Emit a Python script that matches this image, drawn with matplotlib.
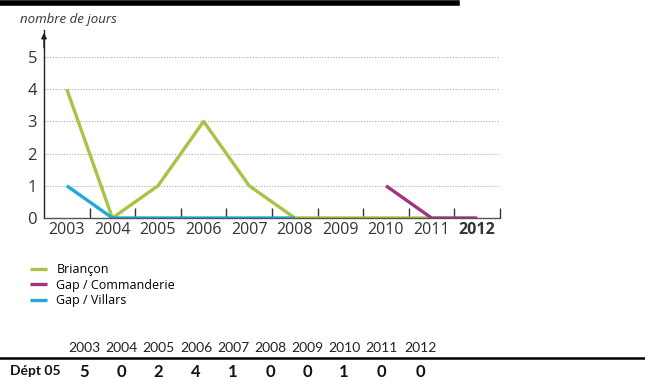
import numpy as np
import matplotlib.pyplot as plt
from matplotlib.lines import Line2D

years = [2003, 2004, 2005, 2006, 2007, 2008, 2009, 2010, 2011, 2012]
briancon = [4, 0, 1, 3, 1, 0, 0, 0, 0, np.nan]
gap_commanderie = [np.nan] * 7 + [1, 0, 0]
gap_villars = [1, 0, 0, 0, 0, 0, np.nan, np.nan, np.nan, np.nan]
dept05 = [5, 0, 2, 4, 1, 0, 0, 1, 0, 0]

c_green = "#a6c445"
c_purple = "#a3327f"
c_blue = "#1ea9d9"

plt.rcParams["font.family"] = ["Open Sans", "DejaVu Sans"]

fig = plt.figure(figsize=(6.45, 3.8), dpi=100)
W, H = 645, 380

# barre noire en haut
fig.add_artist(Line2D([0, 457 / W], [1 - 2.5 / H, 1 - 2.5 / H], color="black", lw=4,
                      transform=fig.transFigure))

ax = fig.add_axes([44 / W, 1 - 218 / H, 456 / W, 188 / H])
ax.plot(years, briancon, color=c_green, lw=2.4, solid_capstyle="butt", label="Briançon")
ax.plot(years, gap_villars, color=c_blue, lw=2.4, solid_capstyle="butt", label="Gap / Villars")
ax.plot(years, gap_commanderie, color=c_purple, lw=2.4, solid_capstyle="butt", label="Gap / Commanderie")

ax.set_xlim(2002.5, 2012.5)
ax.set_ylim(0, 188 / 32.2)
for s in ["top", "right"]:
    ax.spines[s].set_visible(False)
ax.spines["left"].set_color("#222222")
ax.spines["bottom"].set_color("#555555")
ax.spines["left"].set_linewidth(1.0)
ax.spines["bottom"].set_linewidth(1.0)

for v in range(1, 6):
    ax.axhline(v, color="#aaaaaa", lw=0.8, ls=(0, (1, 1.5)), zorder=0)

ax.set_yticks(range(0, 6))
ax.set_yticklabels([str(v) for v in range(0, 6)], fontsize=12, color="#333333")
ax.tick_params(axis="y", length=0, pad=5)
ax.set_xticks(years)
ax.set_xticklabels([str(y) for y in years], fontsize=11.5, color="#333333")
ax.get_xticklabels()[-1].set_fontweight("bold")
ax.tick_params(axis="x", which="major", length=0, pad=3)
ax.set_xticks([y + 0.5 for y in years], minor=True)
ax.tick_params(axis="x", which="minor", direction="in", length=7, color="#333333", width=1)

# fleche axe y
ax.annotate("", xy=(2002.5, 188 / 32.2), xytext=(2002.5, 5.2),
            arrowprops=dict(arrowstyle="-|>", color="#222222", lw=1, mutation_scale=8),
            annotation_clip=False)
fig.text(20 / W, 1 - 20 / H, "nombre de jours", fontsize=9.5, style="italic",
         va="center", ha="left", color="#333333")

# legende
h, l = ax.get_legend_handles_labels()
order = [0, 2, 1]
fig.legend([h[i] for i in order], [l[i] for i in order], loc="upper left",
           bbox_to_anchor=(24 / W, 1 - 257 / H), frameon=False, fontsize=9,
           handlelength=1.3, handletextpad=0.8, labelspacing=0.2, borderpad=0)

# tableau
xpos = [84, 121, 158, 196, 233, 270, 307, 344, 381, 420]
for x, y in zip(xpos, years):
    fig.text(x / W, 1 - 348 / H, str(y), fontsize=10, ha="center", va="center",
             color="#222222", family=["Lato", "DejaVu Sans"])
for x, v in zip(xpos, dept05):
    fig.text(x / W, 1 - 372 / H, str(v), fontsize=12, fontweight="bold", ha="center",
             va="center", color="#111111", family=["Lato", "DejaVu Sans"])
fig.text(10 / W, 1 - 371 / H, "Dépt 05", fontsize=10, fontweight="bold", ha="left",
         va="center", color="#111111", family=["Lato", "DejaVu Sans"])
fig.add_artist(Line2D([0, 1], [1 - 358 / H, 1 - 358 / H], color="black", lw=1.8,
                      transform=fig.transFigure))

fig.savefig("out.png", dpi=100)
